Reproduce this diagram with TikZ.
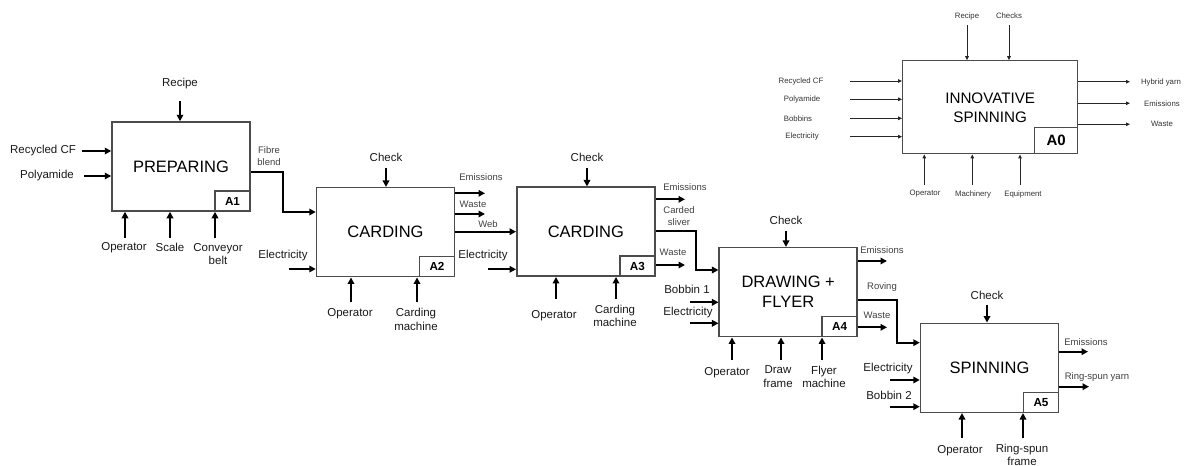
\documentclass[tikz,border=0pt]{standalone}
\usepackage{fontspec}
\setmainfont{Liberation Sans}
\usetikzlibrary{arrows.meta,calc}
\begin{document}
\begin{tikzpicture}[x=1pt,y=-1pt,
 box/.style={draw=black!70,line width=1.5pt,minimum width=138pt,minimum height=89pt,inner sep=0pt,align=center,font=\fontsize{16.5}{20}\selectfont},
 idbox/.style={draw=black!70,line width=1.5pt,minimum width=35pt,minimum height=20pt,inner sep=0pt,anchor=south east,font=\bfseries\fontsize{11.7}{13}\selectfont},
 arr/.style={line width=2.1pt,-{Triangle[length=6.5pt,width=6.5pt]}},
 lab/.style={inner sep=0pt,align=center,text=black!90,font=\fontsize{11.5}{13.3}\selectfont},
 slab/.style={inner sep=0pt,align=center,text=black!75,font=\fontsize{9.5}{11.5}\selectfont},
 boxz/.style={draw=black!70,line width=1.2pt,minimum width=175pt,minimum height=93pt,inner sep=0pt,align=center,font=\fontsize{15.2}{19}\selectfont},
 idboxz/.style={draw=black!70,line width=1.2pt,minimum width=43pt,minimum height=26pt,inner sep=0pt,anchor=south east,font=\bfseries\fontsize{15}{17}\selectfont},
 arrz/.style={line width=1pt,black!85,-{Triangle[length=4pt,width=3.5pt]}},
 labz/.style={inner sep=0pt,align=center,text=black!80,font=\fontsize{7.8}{9}\selectfont}]
\useasboundingbox (0,0) rectangle (1184,466);

% ---------- A1 ----------
\node[box] (a1) at (181,166.5) {PREPARING};
\node[idbox] (a1id) at (a1.south east) {A1};
\node[lab] (a1c) at (180,84) {Recipe};
\coordinate (a1cs) at (180,101);
\draw[arr] (a1cs) -- (a1cs |- a1.north);
\node[lab] (a1i1) at (43,151) {Recycled CF};
\coordinate (a1i1s) at (82,151);
\draw[arr] (a1i1s) -- (a1i1s -| a1.west);
\node[lab] (a1i2) at (47,176) {Polyamide};
\coordinate (a1i2s) at (84,176);
\draw[arr] (a1i2s) -- (a1i2s -| a1.west);
\node[lab] (a1m1) at (124,248) {Operator};
\coordinate (a1m1s) at (125,238);
\draw[arr] (a1m1s) -- (a1m1s |- a1.south);
\node[lab] (a1m2) at (170,247.5) {Scale};
\coordinate (a1m2s) at (170,238);
\draw[arr] (a1m2s) -- (a1m2s |- a1.south);
\node[lab] (a1m3) at (218,254) {Conveyor\\belt};
\coordinate (a1m3s) at (215,238);
\draw[arr] (a1m3s) -- (a1m3s |- a1.south);
\node[slab] (fb) at (269,156) {Fibre\\blend};

% ---------- A2 ----------
\node[box] (a2) at (385.5,232.2) {CARDING};
\node[idbox] (a2id) at (a2.south east) {A2};
\node[lab] (a2c) at (386,157) {Check};
\coordinate (a2cs) at (386,168);
\draw[arr] (a2cs) -- (a2cs |- a2.north);
\draw[arr] (a1.east |- 0,172) -- (283,172) -- (283,212) -- (a2.west |- 0,212);
\node[lab] (a2i1) at (283,256) {Electricity};
\coordinate (a2i1s) at (289,269);
\draw[arr] (a2i1s) -- (a2i1s -| a2.west);
\node[slab] (a2o1) at (481,177.5) {Emissions};
\coordinate (a2o1e) at (485,193.3);
\draw[arr] (a2o1e -| a2.east) -- (a2o1e);
\node[slab] (a2o2) at (473,204) {Waste};
\coordinate (a2o2e) at (485,214);
\draw[arr] (a2o2e -| a2.east) -- (a2o2e);
\node[slab] (a2o3) at (488,224) {Web};
\node[lab] (a2m1) at (350,314) {Operator};
\coordinate (a2m1s) at (351,302);
\draw[arr] (a2m1s) -- (a2m1s |- a2.south);
\node[lab] (a2m2) at (416,319.5) {Carding\\machine};
\coordinate (a2m2s) at (417,302);
\draw[arr] (a2m2s) -- (a2m2s |- a2.south);

% ---------- A3 ----------
\node[box] (a3) at (585.8,231.7) {CARDING};
\node[idbox] (a3id) at (a3.south east) {A3};
\draw[arr] (a2.east |- 0,231.7) -- (a3.west |- 0,231.7);
\node[lab] (a3c) at (587,157) {Check};
\coordinate (a3cs) at (587,168);
\draw[arr] (a3cs) -- (a3cs |- a3.north);
\node[lab] (a3i1) at (483,256) {Electricity};
\coordinate (a3i1s) at (488,269.3);
\draw[arr] (a3i1s) -- (a3i1s -| a3.west);
\node[slab] (a3o1) at (685,187.3) {Emissions};
\coordinate (a3o1e) at (685,199.3);
\draw[arr] (a3o1e -| a3.east) -- (a3o1e);
\node[slab] (a3o2) at (679,216) {Carded\\sliver};
\node[slab] (a3o3) at (673,252.7) {Waste};
\coordinate (a3o3e) at (685,265);
\draw[arr] (a3o3e -| a3.east) -- (a3o3e);
\node[lab] (a3m1) at (554,316) {Operator};
\coordinate (a3m1s) at (556,299);
\draw[arr] (a3m1s) -- (a3m1s |- a3.south);
\node[lab] (a3m2) at (615,316) {Carding\\machine};
\coordinate (a3m2s) at (616,299);
\draw[arr] (a3m2s) -- (a3m2s |- a3.south);

% ---------- A4 ----------
\node[box] (a4) at (788.2,292.2) {DRAWING +\\FLYER};
\node[idbox] (a4id) at (a4.south east) {A4};
\draw[arr] (a3.east |- 0,230.7) -- (696,230.7) -- (696,270) -- (a4.west |- 0,270);
\node[lab] (a4c) at (786,220.7) {Check};
\coordinate (a4cs) at (786,231);
\draw[arr] (a4cs) -- (a4cs |- a4.north);
\node[lab] (a4i1) at (687,289.3) {Bobbin 1};
\coordinate (a4i1s) at (690,302.3);
\draw[arr] (a4i1s) -- (a4i1s -| a4.west);
\node[lab] (a4i2) at (688,312.7) {Electricity};
\coordinate (a4i2s) at (690,323.3);
\draw[arr] (a4i2s) -- (a4i2s -| a4.west);
\node[slab] (a4o1) at (882,250) {Emissions};
\coordinate (a4o1e) at (887,261);
\draw[arr] (a4o1e -| a4.east) -- (a4o1e);
\node[slab] (a4o2) at (882,286.7) {Roving};
\node[slab] (a4o3) at (877,315.7) {Waste};
\coordinate (a4o3e) at (887,327.3);
\draw[arr] (a4o3e -| a4.east) -- (a4o3e);
\node[lab] (a4m1) at (727,372.7) {Operator};
\coordinate (a4m1s) at (732,360);
\draw[arr] (a4m1s) -- (a4m1s |- a4.south);
\node[lab] (a4m2) at (778,376.7) {Draw\\frame};
\coordinate (a4m2s) at (781,360);
\draw[arr] (a4m2s) -- (a4m2s |- a4.south);
\node[lab] (a4m3) at (824,376.7) {Flyer\\machine};
\coordinate (a4m3s) at (822,360);
\draw[arr] (a4m3s) -- (a4m3s |- a4.south);

% ---------- A5 ----------
\node[box] (a5) at (989.5,367.8) {SPINNING};
\node[idbox] (a5id) at (a5.south east) {A5};
\draw[arr] (a4.east |- 0,300) -- (897,300) -- (897,342.7) -- (a5.west |- 0,342.7);
\node[lab] (a5c) at (987,295) {Check};
\coordinate (a5cs) at (987,305);
\draw[arr] (a5cs) -- (a5cs |- a5.north);
\node[lab] (a5i1) at (888,368.3) {Electricity};
\coordinate (a5i1s) at (890,380);
\draw[arr] (a5i1s) -- (a5i1s -| a5.west);
\node[lab] (a5i2) at (889,395) {Bobbin 2};
\coordinate (a5i2s) at (890,406.7);
\draw[arr] (a5i2s) -- (a5i2s -| a5.west);
\node[slab] (a5o1) at (1086,341.7) {Emissions};
\coordinate (a5o1e) at (1088,351.7);
\draw[arr] (a5o1e -| a5.east) -- (a5o1e);
\node[slab] (a5o2) at (1097,377.3) {Ring-spun yarn};
\coordinate (a5o2e) at (1089,386.7);
\draw[arr] (a5o2e -| a5.east) -- (a5o2e);
\node[lab] (a5m1) at (960,450.7) {Operator};
\coordinate (a5m1s) at (962,438);
\draw[arr] (a5m1s) -- (a5m1s |- a5.south);
\node[lab] (a5m2) at (1022,454.7) {Ring-spun\\frame};
\coordinate (a5m2s) at (1023,438);
\draw[arr] (a5m2s) -- (a5m2s |- a5.south);

% ---------- A0 ----------
\node[boxz] (a0) at (990.2,107.3) {INNOVATIVE\\SPINNING};
\node[idboxz] (a0id) at (a0.south east) {A0};
\node[labz] (a0c1) at (967,16) {Recipe};
\node[labz] (a0c2) at (1009,16) {Checks};
\coordinate (a0c1s) at (967,25);
\coordinate (a0c2s) at (1009,25);
\draw[arrz] (a0c1s) -- (a0c1s |- a0.north);
\draw[arrz] (a0c2s) -- (a0c2s |- a0.north);
\node[labz] (a0i1) at (801,81) {Recycled CF};
\node[labz] (a0i2) at (802,99.3) {Polyamide};
\node[labz] (a0i3) at (798,118.3) {Bobbins};
\node[labz] (a0i4) at (802,136.7) {Electricity};
\coordinate (a0i1s) at (850,81);
\coordinate (a0i2s) at (850,99.3);
\coordinate (a0i3s) at (850,118.3);
\coordinate (a0i4s) at (850,136.7);
\draw[arrz] (a0i1s) -- (a0i1s -| a0.west);
\draw[arrz] (a0i2s) -- (a0i2s -| a0.west);
\draw[arrz] (a0i3s) -- (a0i3s -| a0.west);
\draw[arrz] (a0i4s) -- (a0i4s -| a0.west);
\node[labz] (a0o1) at (1161,82) {Hybrid yarn};
\node[labz] (a0o2) at (1162,103.3) {Emissions};
\node[labz] (a0o3) at (1162,124.3) {Waste};
\coordinate (a0o1e) at (1130,81.7);
\coordinate (a0o2e) at (1130,103.3);
\coordinate (a0o3e) at (1130,124.3);
\draw[arrz] (a0o1e -| a0.east) -- (a0o1e);
\draw[arrz] (a0o2e -| a0.east) -- (a0o2e);
\draw[arrz] (a0o3e -| a0.east) -- (a0o3e);
\node[labz] (a0m1) at (925,194) {Operator};
\node[labz] (a0m2) at (973,194) {Machinery};
\node[labz] (a0m3) at (1023,194) {Equipment};
\coordinate (a0m1s) at (924.3,185);
\coordinate (a0m2s) at (972.3,185);
\coordinate (a0m3s) at (1020,185);
\draw[arrz] (a0m1s) -- (a0m1s |- a0.south);
\draw[arrz] (a0m2s) -- (a0m2s |- a0.south);
\draw[arrz] (a0m3s) -- (a0m3s |- a0.south);
\end{tikzpicture}
\end{document}
